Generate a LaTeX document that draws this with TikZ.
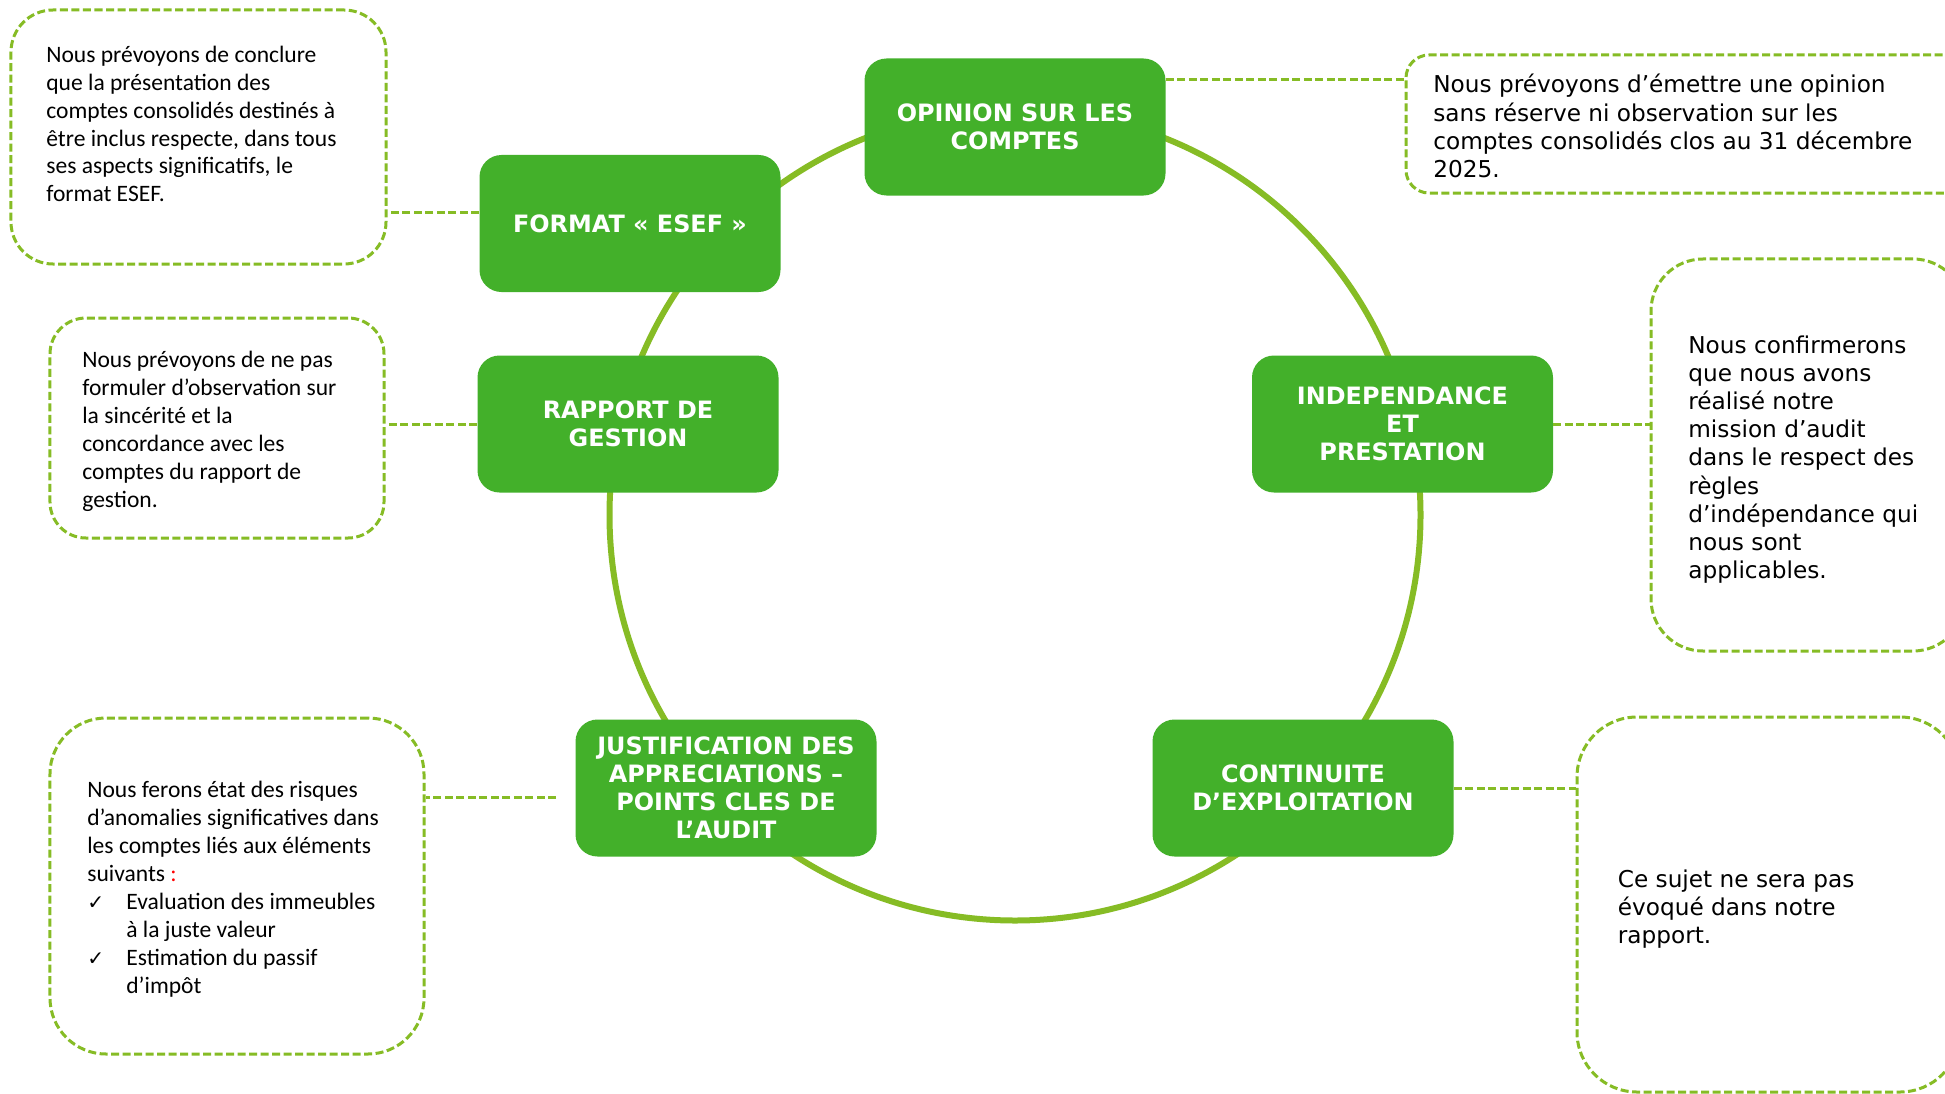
\documentclass[tikz,border=0pt]{standalone}
\usepackage{fontspec}
\usepackage{tikz}
\newfontfamily\calib{Carlito}
\newfontfamily\verd{DejaVu Sans}
\definecolor{boxgreen}{HTML}{43B02A}
\definecolor{linegreen}{HTML}{86BC25}

\begin{document}
\begin{tikzpicture}[x=0.2mm, y=-0.2mm,
    topic/.style={rectangle, rounded corners=4.4mm, fill=boxgreen, text=white,
        minimum width=60.2mm, minimum height=27.4mm, align=center,
        font={\verd\bfseries\fontsize{13.6}{16}\selectfont}},
    note/.style={rectangle, draw=linegreen, line width=0.6mm, dash pattern=on 1.6mm off 0.7mm},
    link/.style={draw=linegreen, line width=0.6mm, dash pattern=on 1.6mm off 0.7mm},
    calitext/.style={anchor=west, align=left, inner sep=0pt, font={\calib\fontsize{13.4}{15.9}\selectfont}},
    verdtext/.style={anchor=west, align=left, inner sep=0pt, font={\verd\fontsize{13.2}{16}\selectfont}}]
    \useasboundingbox (0,0) rectangle (1945,1094);
    \clip (0,0) rectangle (1945,1094);
    \fill[white] (0,0) rectangle (1945,1094);

    % the ring behind the topics
    \draw[linegreen, line width=1.2mm] (1015,515) circle[radius=81.1mm];

    % topics
    \node[topic] (opinion) at (1015,127) {OPINION SUR LES\\COMPTES};
    \node[topic] (esef) at (630,223.5) {FORMAT « ESEF »};
    \node[topic] (rapport) at (628,424) {RAPPORT DE\\GESTION};
    \node[topic] (indep) at (1402.5,424) {INDEPENDANCE\\ET\\PRESTATION};
    \node[topic] (just) at (726,788) {JUSTIFICATION DES\\APPRECIATIONS –\\POINTS CLES DE\\L’AUDIT};
    \node[topic] (cont) at (1303,788) {CONTINUITE\\D’EXPLOITATION};

    % notes
    \node[note, rounded corners=8.4mm, minimum width=75mm, minimum height=50.8mm] (noteEsef) at (198.5,137) {};
    \node[note, rounded corners=7.2mm, minimum width=66.8mm, minimum height=44mm] (noteRapport) at (217,428) {};
    \node[note, rounded corners=11.2mm, minimum width=74.8mm, minimum height=67.2mm] (noteJust) at (237,886) {};
    \node[note, rounded corners=4.6mm, minimum width=118.8mm, minimum height=27.6mm] (noteOpinion) at (1703,124) {};
    \node[note, rounded corners=10.4mm, minimum width=62.8mm, minimum height=78.4mm] (noteIndep) at (1808,455) {};
    \node[note, rounded corners=12mm, minimum width=76.6mm, minimum height=75mm] (noteCont) at (1768.5,904.5) {};

    \node[calitext] (txtEsef) at (46,124) {Nous prévoyons de conclure\\que la présentation des\\comptes consolidés destinés à\\être inclus respecte, dans tous\\ses aspects significatifs, le\\format ESEF.};
    \node[calitext] (txtRapport) at (82,431) {Nous prévoyons de ne pas\\formuler d’observation sur\\la sincérité et la\\concordance avec les\\comptes du rapport de\\gestion.};
    \node[calitext] (txtJust) at (87,889) {Nous ferons état des risques\\d’anomalies significatives dans\\les comptes liés aux éléments\\suivants {\color{red}:}\\
        \makebox[7.8mm][l]{\verd\fontsize{11.5}{15.9}\selectfont ✓}Evaluation des immeubles\\
        \hspace*{7.8mm}à la juste valeur\\
        \makebox[7.8mm][l]{\verd\fontsize{11.5}{15.9}\selectfont ✓}Estimation du passif\\
        \hspace*{7.8mm}d’impôt};
    \node[verdtext] (txtOpinion) at (1433,126) {Nous prévoyons d’émettre une opinion\\sans réserve ni observation sur les\\comptes consolidés clos au 31 décembre\\2025.};
    \node[verdtext] (txtIndep) at (1688,459.5) {Nous confirmerons\\que nous avons\\réalisé notre\\mission d’audit\\dans le respect des\\règles\\d’indépendance qui\\nous sont\\applicables.};
    \node[verdtext] (txtCont) at (1617.5,909) {Ce sujet ne sera pas\\évoqué dans notre\\rapport.};

    % links
    \draw[link] (opinion.east |- 0,80) -- (noteOpinion.west |- 0,80);
    \draw[link] (esef.west |- 0,212) -- (noteEsef.east |- 0,212);
    \draw[link] (rapport.west) -- (noteRapport.east |- rapport.west);
    \draw[link] (indep.east) -- (noteIndep.west |- indep.east);
    \draw[link, shorten <=3.8mm] (just.west |- 0,797) -- (noteJust.east |- 0,797);
    \draw[link] (cont.east) -- (noteCont.west |- cont.east);
\end{tikzpicture}
\end{document}
